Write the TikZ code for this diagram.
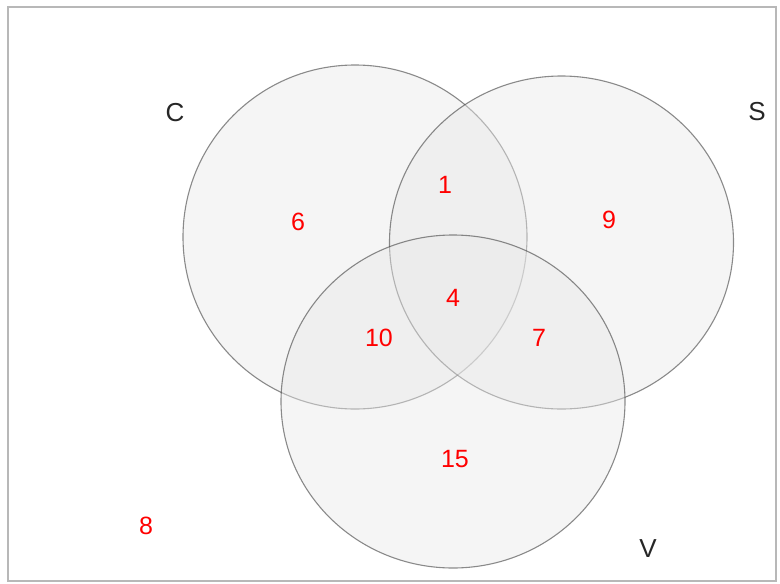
\documentclass[tikz,border=0pt]{standalone}
\usetikzlibrary{shapes.geometric}
\usepackage{fontspec}
\setmainfont{Liberation Sans}
\begin{document}
\begin{tikzpicture}[x=1pt,y=-1pt,
  setc/.style={ellipse,draw=black!75,draw opacity=0.6,line width=1.1pt,fill=black!9,fill opacity=0.45,minimum width=344pt,minimum height=344pt,inner sep=0pt},
  setname/.style={font=\fontsize{26}{26}\selectfont,text=black!85},
  count/.style={font=\fontsize{25}{25}\selectfont,text=red}]
\useasboundingbox (0,0) rectangle (780,584);
\node[draw=black!28,line width=2pt,minimum width=768pt,minimum height=574pt,inner sep=0pt] (frame) at (392,294) {};
\node[setc] (cC) at (355,237) {};
\node[setc,minimum height=333pt] (cS) at (561.5,242.5) {};
\node[setc,minimum height=333pt] (cV) at (453,401.5) {};
\node[setname] (lC) at (175,113) {C};
\node[setname] (lS) at (757,112) {S};
\node[setname] (lV) at (648,549) {V};
\node[count] (n6) at (298,222) {6};
\node[count] (n1) at (445,185) {1};
\node[count] (n9) at (609,220) {9};
\node[count] (n4) at (453,298) {4};
\node[count] (n10) at (379,338) {10};
\node[count] (n7) at (539,338) {7};
\node[count] (n15) at (455,459) {15};
\node[count] (n8) at (146,526) {8};
\end{tikzpicture}
\end{document}
